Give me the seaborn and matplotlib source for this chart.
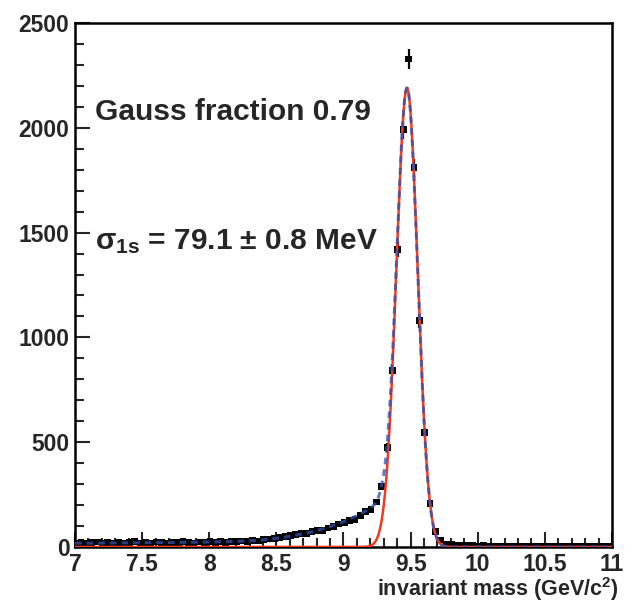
import numpy as np
import pandas as pd
import matplotlib.pyplot as plt
import seaborn as sns
from matplotlib.ticker import MultipleLocator

# histogram binning (0.04 GeV bins between 7 and 11 GeV)
bin_width = 0.04
mass = np.round(7.005 + bin_width * np.arange(100), 3)

# entries per bin
counts = [18, 22, 15, 20, 24, 17, 21, 19, 23, 16, 20, 25, 18, 22, 19, 24, 21,
          17, 23, 20, 26, 22, 19, 24, 21, 27, 23, 25, 22, 28, 26, 29, 27,
          31, 29, 35, 38, 41, 46, 49, 55, 58, 66, 63, 73, 80, 79, 91, 99, 110,
          118, 125, 131, 152, 170, 180, 215, 290,
          475, 843, 1420, 1990, 2328, 1810, 1080, 545, 206, 73, 33, 14,
          10, 8, 7, 6, 7, 5, 6, 5, 5, 4, 5, 4, 4, 5, 3, 4, 4, 3, 4, 3,
          3, 4, 3, 3, 2, 3, 3, 2, 3, 2]

# non-gaussian (low mass tail) part of the total fit, per bin
tail = [18, 18, 18, 18, 18, 19, 19, 19, 19, 19, 20, 20, 20, 20, 20, 21, 21,
        21, 21, 22, 22, 22, 23, 23, 23, 24, 24, 25, 25, 26, 27, 28, 29,
        30, 32, 34, 37, 40, 43, 47, 51, 56, 61, 66, 72, 79, 86, 94, 103, 112,
        122, 133, 145, 158, 170, 180, 185, 170,
        110, 50, 15, 0, 0, 0, 0, 0, 0, 0, 0, 0] + [0] * 30

# gaussian component (sigma_1S = 79.1 MeV)
gauss_amp = 2190
gauss_mean = 9.473
gauss_sigma = 0.0791

x_ticks = [7, 7.5, 8, 8.5, 9, 9.5, 10, 10.5, 11]
x_labels = ['7', '7.5', '8', '8.5', '9', '9.5', '10', '10.5', '11']
y_ticks = [0, 500, 1000, 1500, 2000, 2500]
y_labels = ['0', '500', '1000', '1500', '2000', '2500']


def main():
    sns.set_style('ticks')
    plt.rcParams['font.family'] = ['Liberation Sans', 'DejaVu Sans']
    plt.rcParams['mathtext.fontset'] = 'custom'
    plt.rcParams['mathtext.rm'] = 'Liberation Sans:bold'
    plt.rcParams['mathtext.it'] = 'Liberation Sans:bold'
    plt.rcParams['mathtext.bf'] = 'Liberation Sans:bold'

    hist = pd.DataFrame({'mass': mass, 'counts': counts})
    hist['err'] = np.sqrt(hist['counts'])

    x_fine = np.linspace(7, 11, 2001)
    gauss = gauss_amp * np.exp(-0.5 * ((x_fine - gauss_mean) / gauss_sigma) ** 2)
    total = gauss + np.interp(x_fine, mass, tail)
    curves = pd.DataFrame({'x': x_fine, 'gauss': gauss, 'total': total})
    curves_tot = curves[curves['x'] <= mass[-1]]

    fig = plt.figure(figsize=(6.33, 6.05), dpi=100)
    ax = fig.add_axes([0.1185, 0.0959, 0.8483, 0.8661])

    # data points
    ax.errorbar(hist['mass'], hist['counts'], yerr=hist['err'], xerr=bin_width / 2,
                fmt='none', ecolor='black', elinewidth=1.6, zorder=2)
    sns.scatterplot(data=hist, x='mass', y='counts', ax=ax, color='black',
                    marker='s', s=24, edgecolor='none', zorder=3)

    # fit curves
    sns.lineplot(data=curves, x='x', y='gauss', ax=ax, color='#f23a1e',
                 linewidth=1.8, zorder=4)
    sns.lineplot(data=curves_tot, x='x', y='total', ax=ax, color='#3352b0',
                 linewidth=2.2, linestyle=(0, (2.2, 1.6)), alpha=0.75, zorder=5)

    ax.set_xlim(7, 11)
    ax.set_ylim(0, 2500)
    ax.set_xticks(x_ticks)
    ax.set_xticklabels(x_labels)
    ax.set_yticks(y_ticks)
    ax.set_yticklabels(y_labels)
    ax.xaxis.set_minor_locator(MultipleLocator(0.1))
    ax.yaxis.set_minor_locator(MultipleLocator(100))
    ax.tick_params(which='major', direction='in', length=11, width=1.5,
                   labelsize=16.5, pad=4, top=False, right=False)
    ax.tick_params(which='minor', direction='in', length=6.5, width=1.5,
                   top=False, right=False)
    for lab in ax.get_xticklabels() + ax.get_yticklabels():
        lab.set_fontweight('bold')
    for sp in ax.spines.values():
        sp.set_linewidth(1.8)
        sp.set_color('black')

    ax.set_xlabel('')
    ax.set_ylabel('')
    fig.text(0.977, 0.004, 'invariant mass (GeV/c$^{2}$)', fontsize=15.5,
             fontweight='bold', ha='right', va='bottom')

    ax.text(0.037, 0.83, 'Gauss fraction 0.79', transform=ax.transAxes,
            fontsize=21.5, fontweight='bold', va='center')
    ax.text(0.037, 0.582, r'$\sigma_{\rm 1s}$ = 79.1 $\pm$ 0.8 MeV',
            transform=ax.transAxes, fontsize=21.5, fontweight='bold', va='center')

    fig.savefig('out.png', dpi=100)


if __name__ == "__main__":
    main()
